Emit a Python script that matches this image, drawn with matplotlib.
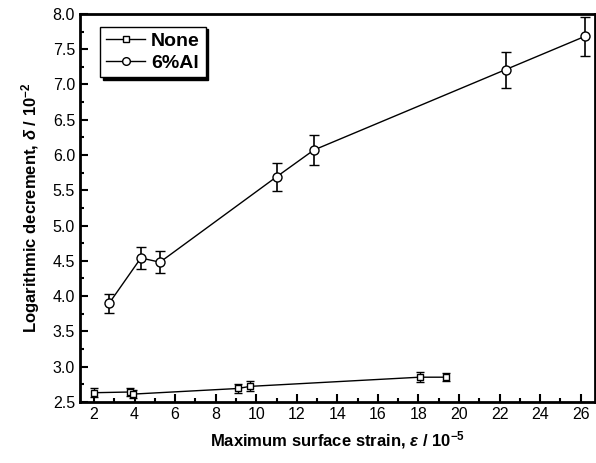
import matplotlib
matplotlib.use("Agg")
import matplotlib.pyplot as plt
from matplotlib.ticker import MultipleLocator

plt.rcParams['font.family'] = ['Liberation Sans', 'DejaVu Sans']
plt.rcParams['mathtext.fontset'] = 'custom'
plt.rcParams['mathtext.it'] = 'Liberation Sans:italic:bold'
plt.rcParams['mathtext.rm'] = 'Liberation Sans:bold'

none_x = [2.0, 3.77, 3.9, 9.1, 9.7, 18.07, 19.38]
none_y = [2.63, 2.64, 2.61, 2.69, 2.72, 2.85, 2.85]
none_err = [0.06, 0.06, 0.06, 0.07, 0.07, 0.07, 0.06]

al_x = [2.75, 4.31, 5.25, 11.0, 12.84, 22.3, 26.2]
al_y = [3.90, 4.54, 4.48, 5.69, 6.07, 7.21, 7.68]
al_err = [0.135, 0.15, 0.16, 0.195, 0.21, 0.255, 0.27]

labels = ["None", "6%Al"]

fig = plt.figure(figsize=(5.96, 4.63), dpi=100)
ax = fig.add_axes([0.134, 0.132, 0.864, 0.838])

ax.errorbar(none_x, none_y, yerr=none_err, color='black', lw=1.0, marker='s',
            ms=4.5, mfc='white', mec='black', mew=1.0, capsize=3, elinewidth=1.0,
            capthick=1.0, label=labels[0])
ax.errorbar(al_x, al_y, yerr=al_err, color='black', lw=1.0, marker='o',
            ms=6.5, mfc='white', mec='black', mew=1.0, capsize=3.5, elinewidth=1.2,
            capthick=1.2, label=labels[1])

ax.set_xlim(1.3, 26.7)
ax.set_ylim(2.5, 8.0)
ax.xaxis.set_major_locator(MultipleLocator(2))
ax.xaxis.set_minor_locator(MultipleLocator(1))
ax.yaxis.set_major_locator(MultipleLocator(0.5))
ax.yaxis.set_minor_locator(MultipleLocator(0.25))
ax.yaxis.set_major_formatter(plt.FormatStrFormatter('%.1f'))
ax.tick_params(which='major', direction='in', length=6, width=1.5, labelsize=11.5)
ax.tick_params(which='minor', direction='in', length=3, width=1.5)
for s in ax.spines.values():
    s.set_linewidth(2.0)

ax.set_xlabel(r'Maximum surface strain, $\mathit{\varepsilon}$ / 10$^{-5}$',
              fontsize=12, fontweight='bold', labelpad=5)
ax.set_ylabel(r'Logarithmic decrement, $\mathit{\delta}$ / 10$^{-2}$',
              fontsize=12, fontweight='bold', labelpad=8)

handles, labs = ax.get_legend_handles_labels()
handles = [h[0] for h in handles]
leg = ax.legend(handles, labs, loc='upper left', bbox_to_anchor=(0.04, 0.967),
                frameon=True, fancybox=False, shadow={'color': 'black', 'alpha': 1.0},
                prop={'weight': 'bold', 'size': 14}, handlelength=2.0,
                handletextpad=0.3, borderpad=0.3, labelspacing=0.2,
                borderaxespad=0, markerscale=0.85)
leg.get_frame().set_edgecolor('black')
leg.get_frame().set_linewidth(1.0)

fig.savefig('out.png', dpi=100)
